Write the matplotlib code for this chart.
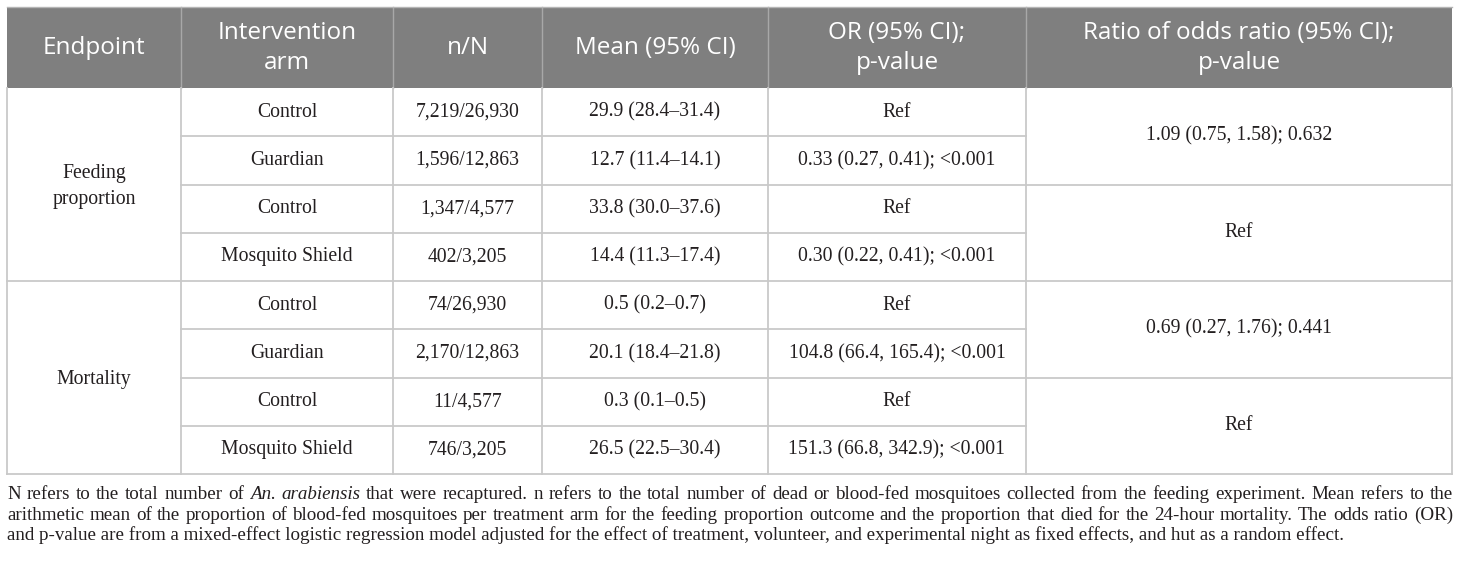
import matplotlib
matplotlib.use('Agg')
import matplotlib.pyplot as plt

# table content
headers = ['Endpoint', 'Intervention\narm', 'n/N', 'Mean (95% CI)',
           'OR (95% CI);\np-value', 'Ratio of odds ratio (95% CI);\np-value']
endpoints = ['Feeding\nproportion', 'Mortality']
arms = ['Control', 'Guardian', 'Control', 'Mosquito Shield',
        'Control', 'Guardian', 'Control', 'Mosquito Shield']
n_over_N = ['7,219/26,930', '1,596/12,863', '1,347/4,577', '402/3,205',
            '74/26,930', '2,170/12,863', '11/4,577', '746/3,205']
means = ['29.9 (28.4–31.4)', '12.7 (11.4–14.1)', '33.8 (30.0–37.6)', '14.4 (11.3–17.4)',
         '0.5 (0.2–0.7)', '20.1 (18.4–21.8)', '0.3 (0.1–0.5)', '26.5 (22.5–30.4)']
or_pvalues = ['Ref', '0.33 (0.27, 0.41); <0.001', 'Ref', '0.30 (0.22, 0.41); <0.001',
              'Ref', '104.8 (66.4, 165.4); <0.001', 'Ref', '151.3 (66.8, 342.9); <0.001']
ratio_or = ['1.09 (0.75, 1.58); 0.632', 'Ref', '0.69 (0.27, 1.76); 0.441', 'Ref']

footnote_1 = [('N refers to the total number of', False), ('An. arabiensis', True),
              ('that were recaptured. n refers to the total number of dead or blood-fed '
               'mosquitoes collected from the feeding experiment. Mean refers to the', False)]
footnote_2 = ('arithmetic mean of the proportion of blood-fed mosquitoes per treatment arm for the '
              'feeding proportion outcome and the proportion that died for the 24-hour mortality. '
              'The odds ratio (OR)')
footnote_3 = ('and p-value are from a mixed-effect logistic regression model adjusted for the effect '
              'of treatment, volunteer, and experimental night as fixed effects, and hut as a random effect.')

# layout (pixels)
W, H = 1460, 561
col_x = [7, 181, 393, 542, 768, 1026, 1452]
head_top, head_bot = 7, 88
row_h = 48.25
HEAD_BG = '#7f7f7f'
LINE = '#c9c9c9'
TXT = '#231f20'
SERIF = 'Liberation Serif'
SANS = 'Open Sans'
body_fs = 14.2
head_fs = 17.5

fig = plt.figure(figsize=(W / 100, H / 100), dpi=100)
ax = fig.add_axes([0, 0, 1, 1])
ax.set_xlim(0, W)
ax.set_ylim(H, 0)
ax.axis('off')

n_rows = len(arms)
tab_bot = head_bot + n_rows * row_h

# header
ax.add_patch(plt.Rectangle((col_x[0], head_top), col_x[-1] - col_x[0], head_bot - head_top,
                           facecolor=HEAD_BG, edgecolor='none'))
for x in col_x[1:-1]:
    ax.plot([x, x], [head_top, head_bot], color='#a8a8a8', lw=1)
for i, h in enumerate(headers):
    cx = (col_x[i] + col_x[i + 1]) / 2
    ax.text(cx, (head_top + head_bot) / 2 + 0.5, h, ha='center', va='center', color='white',
            fontsize=head_fs, family=SANS, linespacing=1.32)

def row_y(i):
    return head_bot + i * row_h

# outer border and vertical lines in body
for x in col_x:
    ax.plot([x, x], [head_bot, tab_bot], color=LINE, lw=1.3)
ax.plot([col_x[0], col_x[-1]], [tab_bot, tab_bot], color=LINE, lw=1.3)
ax.plot([col_x[0], col_x[-1]], [head_top, head_top], color='#b5b5b5', lw=1)

# horizontal row lines
for i in range(1, n_rows):
    if i == 4:
        x0, x1 = col_x[0], col_x[-1]
    elif i % 2 == 0:
        x0, x1 = col_x[1], col_x[-1]
    else:
        x0, x1 = col_x[1], col_x[5]
    ax.plot([x0, x1], [row_y(i), row_y(i)], color=LINE, lw=1.3)

# body cells
for i in range(n_rows):
    cy = row_y(i) + row_h / 2
    for c, vals in enumerate([arms, n_over_N, means, or_pvalues], start=1):
        cx = (col_x[c] + col_x[c + 1]) / 2
        ax.text(cx, cy, vals[i], ha='center', va='center', fontsize=body_fs, family=SERIF,
                color=TXT)

for g, e in enumerate(endpoints):
    cy = row_y(g * 4 + 2) + 2
    ax.text((col_x[0] + col_x[1]) / 2, cy, e, ha='center', va='center', fontsize=body_fs,
            family=SERIF, color=TXT, linespacing=1.55)

for g, r in enumerate(ratio_or):
    cy = row_y(g * 2 + 1)
    ax.text((col_x[5] + col_x[6]) / 2, cy, r, ha='center', va='center', fontsize=body_fs,
            family=SERIF, color=TXT)

# footnote, justified like the journal layout
renderer = fig.canvas.get_renderer()
foot_fs = 13.7
foot_y = [494, 515, 535]
left, right = col_x[0], 1453

def justify(tokens, y):
    words = []
    for txt, it in tokens:
        for w in txt.split():
            words.append((w, it))
    arts = []
    total = 0
    for w, it in words:
        t = ax.text(0, y, w, ha='left', va='center', fontsize=foot_fs, family=SERIF,
                    style='italic' if it else 'normal', color=TXT)
        bb = t.get_window_extent(renderer)
        arts.append((t, bb.width))
        total += bb.width
    gap = (right - left - total) / (len(arts) - 1)
    x = left
    for t, w in arts:
        t.set_x(x)
        x += w + gap

justify(footnote_1, foot_y[0])
justify([(footnote_2, False)], foot_y[1])
ax.text(left, foot_y[2], footnote_3, ha='left', va='center', fontsize=foot_fs, family=SERIF,
        color=TXT)

fig.savefig('out.png', dpi=100)
